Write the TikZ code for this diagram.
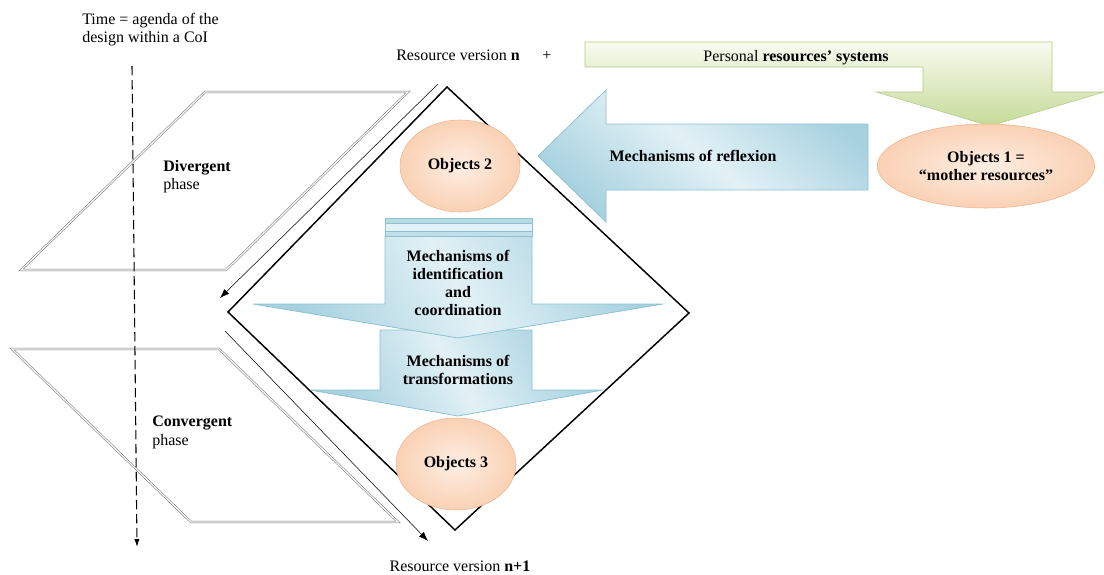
\documentclass[tikz,border=0pt]{standalone}
\usepackage{fontspec}
\setmainfont{Liberation Serif}
\usepackage{tikz}
\usetikzlibrary{arrows,arrows.meta,shapes,positioning}
\definecolor{bluel}{HTML}{E2F1F6}
\definecolor{blued}{HTML}{A6D1DF}
\definecolor{blueedge}{HTML}{8CC2D2}
\definecolor{greenl}{HTML}{F8FBF0}
\definecolor{greend}{HTML}{C6DA98}
\definecolor{greenedge}{HTML}{B2CA80}
\definecolor{orangel}{HTML}{FEEEE3}
\definecolor{oranged}{HTML}{FAD1B4}
\definecolor{orangeedge}{HTML}{EFB28C}
\newcommand{\txtsize}{\fontsize{12}{13.7}\selectfont}
\tikzstyle{txt} = [inner sep=0pt, align=left, font=\txtsize]
\tikzstyle{mech} = [inner sep=0pt, align=center, font=\txtsize\bfseries]
\tikzstyle{obj} =
  [ellipse, draw=orangeedge, shading=radial, inner color=orangel, outer color=oranged,
   inner sep=0pt, align=center, font=\txtsize\bfseries]
\tikzstyle{phase} = [draw=gray!90!black, double=white, double distance=0.9pt]
\tikzstyle{flow} = [draw, -{Latex[length=7pt,width=5pt]}, thin]
\tikzstyle{bluearrow} =
  [draw=blueedge, line width=0.6pt, top color=blued, bottom color=blued,
   middle color=bluel]

\begin{document}
\begin{tikzpicture}[x=0.75pt, y=-0.75pt]
  \useasboundingbox (0,0) rectangle (1104,575);

  % the two phases
  \draw [phase] (205,92) -- (408,92) -- (226,270) -- (21,270) -- cycle;
  \draw [phase] (12,349) -- (219,349) -- (398,522) -- (191,522) -- cycle;
  \node [txt, anchor=north west] (div) at (163,160) {\textbf{Divergent}\\phase};
  \node [txt, anchor=north west] (conv) at (152,416) {\textbf{Convergent}\\phase};

  % time
  \node [txt, anchor=north west] (time) at (82,13) {Time = agenda of the\\design within a CoI};
  \coordinate (t0) at (132,66);
  \coordinate (t1) at (137,547);
  \draw [thick, dash pattern=on 7pt off 3.5pt, -{Latex[length=6pt,width=4pt]}] (t0) -- (t1);

  % diamond
  \coordinate (dt) at (447,87);
  \coordinate (dr) at (689,313);
  \coordinate (db) at (455,530);
  \coordinate (dl) at (228,312);
  \draw [line width=1.1pt] (dt) -- (dr) -- (db) -- (dl) -- cycle;

  \coordinate (a0) at (438,84);
  \coordinate (a1) at (220,298);
  \draw [flow] (a0) -- (a1);
  \coordinate (b0) at (225,331);
  \coordinate (b1) at (428,541);
  \draw [flow] (b0) -- (b1);

  \node [txt, anchor=base west] (rvn) at (396,60) {Resource version \textbf{n}};
  \node [txt, anchor=base] (plus) at (547,60) {+};
  \node [txt, anchor=base] (rvn1) at (460,571) {Resource version \textbf{n+1}};

  % personal resources
  \draw [draw=greenedge, top color=greenl, bottom color=greend]
    (585,42) -- (1052,42) -- (1052,92) -- (1104,92) -- (990,126)
    -- (876,92) -- (923,92) -- (923,67) -- (585,67) -- cycle;
  \node [txt, anchor=base] (prs) at (796,61) {Personal \textbf{resources’ systems}};

  % reflexion
  \draw [bluearrow, shading angle=-40]
    (868,124) -- (606,124) -- (606,90) -- (538,156) -- (606,222)
    -- (606,190) -- (868,190) -- cycle;
  \node [mech] (refl) at (693,156) {Mechanisms of reflexion};

  % transformations
  \draw [bluearrow, shading angle=-60]
    (380,330) -- (532,330) -- (532,390) -- (603,390) -- (458,416)
    -- (310,390) -- (380,390) -- cycle;
  \node [mech] (trans) at (458,370) {Mechanisms of\\transformations};

  % identification
  \draw [bluearrow, shading angle=-60]
    (385,236) -- (532,236) -- (532,304) -- (663,304) -- (458,338)
    -- (253,304) -- (385,304) -- cycle;
  \draw [draw=blueedge, line width=0.6pt, fill=blued!80] (385,218) rectangle (532,223);
  \draw [draw=blueedge, line width=0.6pt, fill=bluel] (385,223) rectangle (532,231);
  \draw [draw=blueedge, line width=0.6pt, fill=blued!70] (385,231) rectangle (532,236);
  \node [mech] (ident) at (458,283) {Mechanisms of\\identification\\and\\coordination};

  % objects
  \node [obj, minimum width=90pt, minimum height=69pt] (o2) at (460,166) {Objects 2};
  \node [obj, minimum width=90pt, minimum height=69pt] (o3) at (456,464) {Objects 3};
  \node [obj, minimum width=163pt, minimum height=63pt] (o1) at (986,166)
    {Objects 1 =\\“mother resources”};

\end{tikzpicture}
\end{document}
